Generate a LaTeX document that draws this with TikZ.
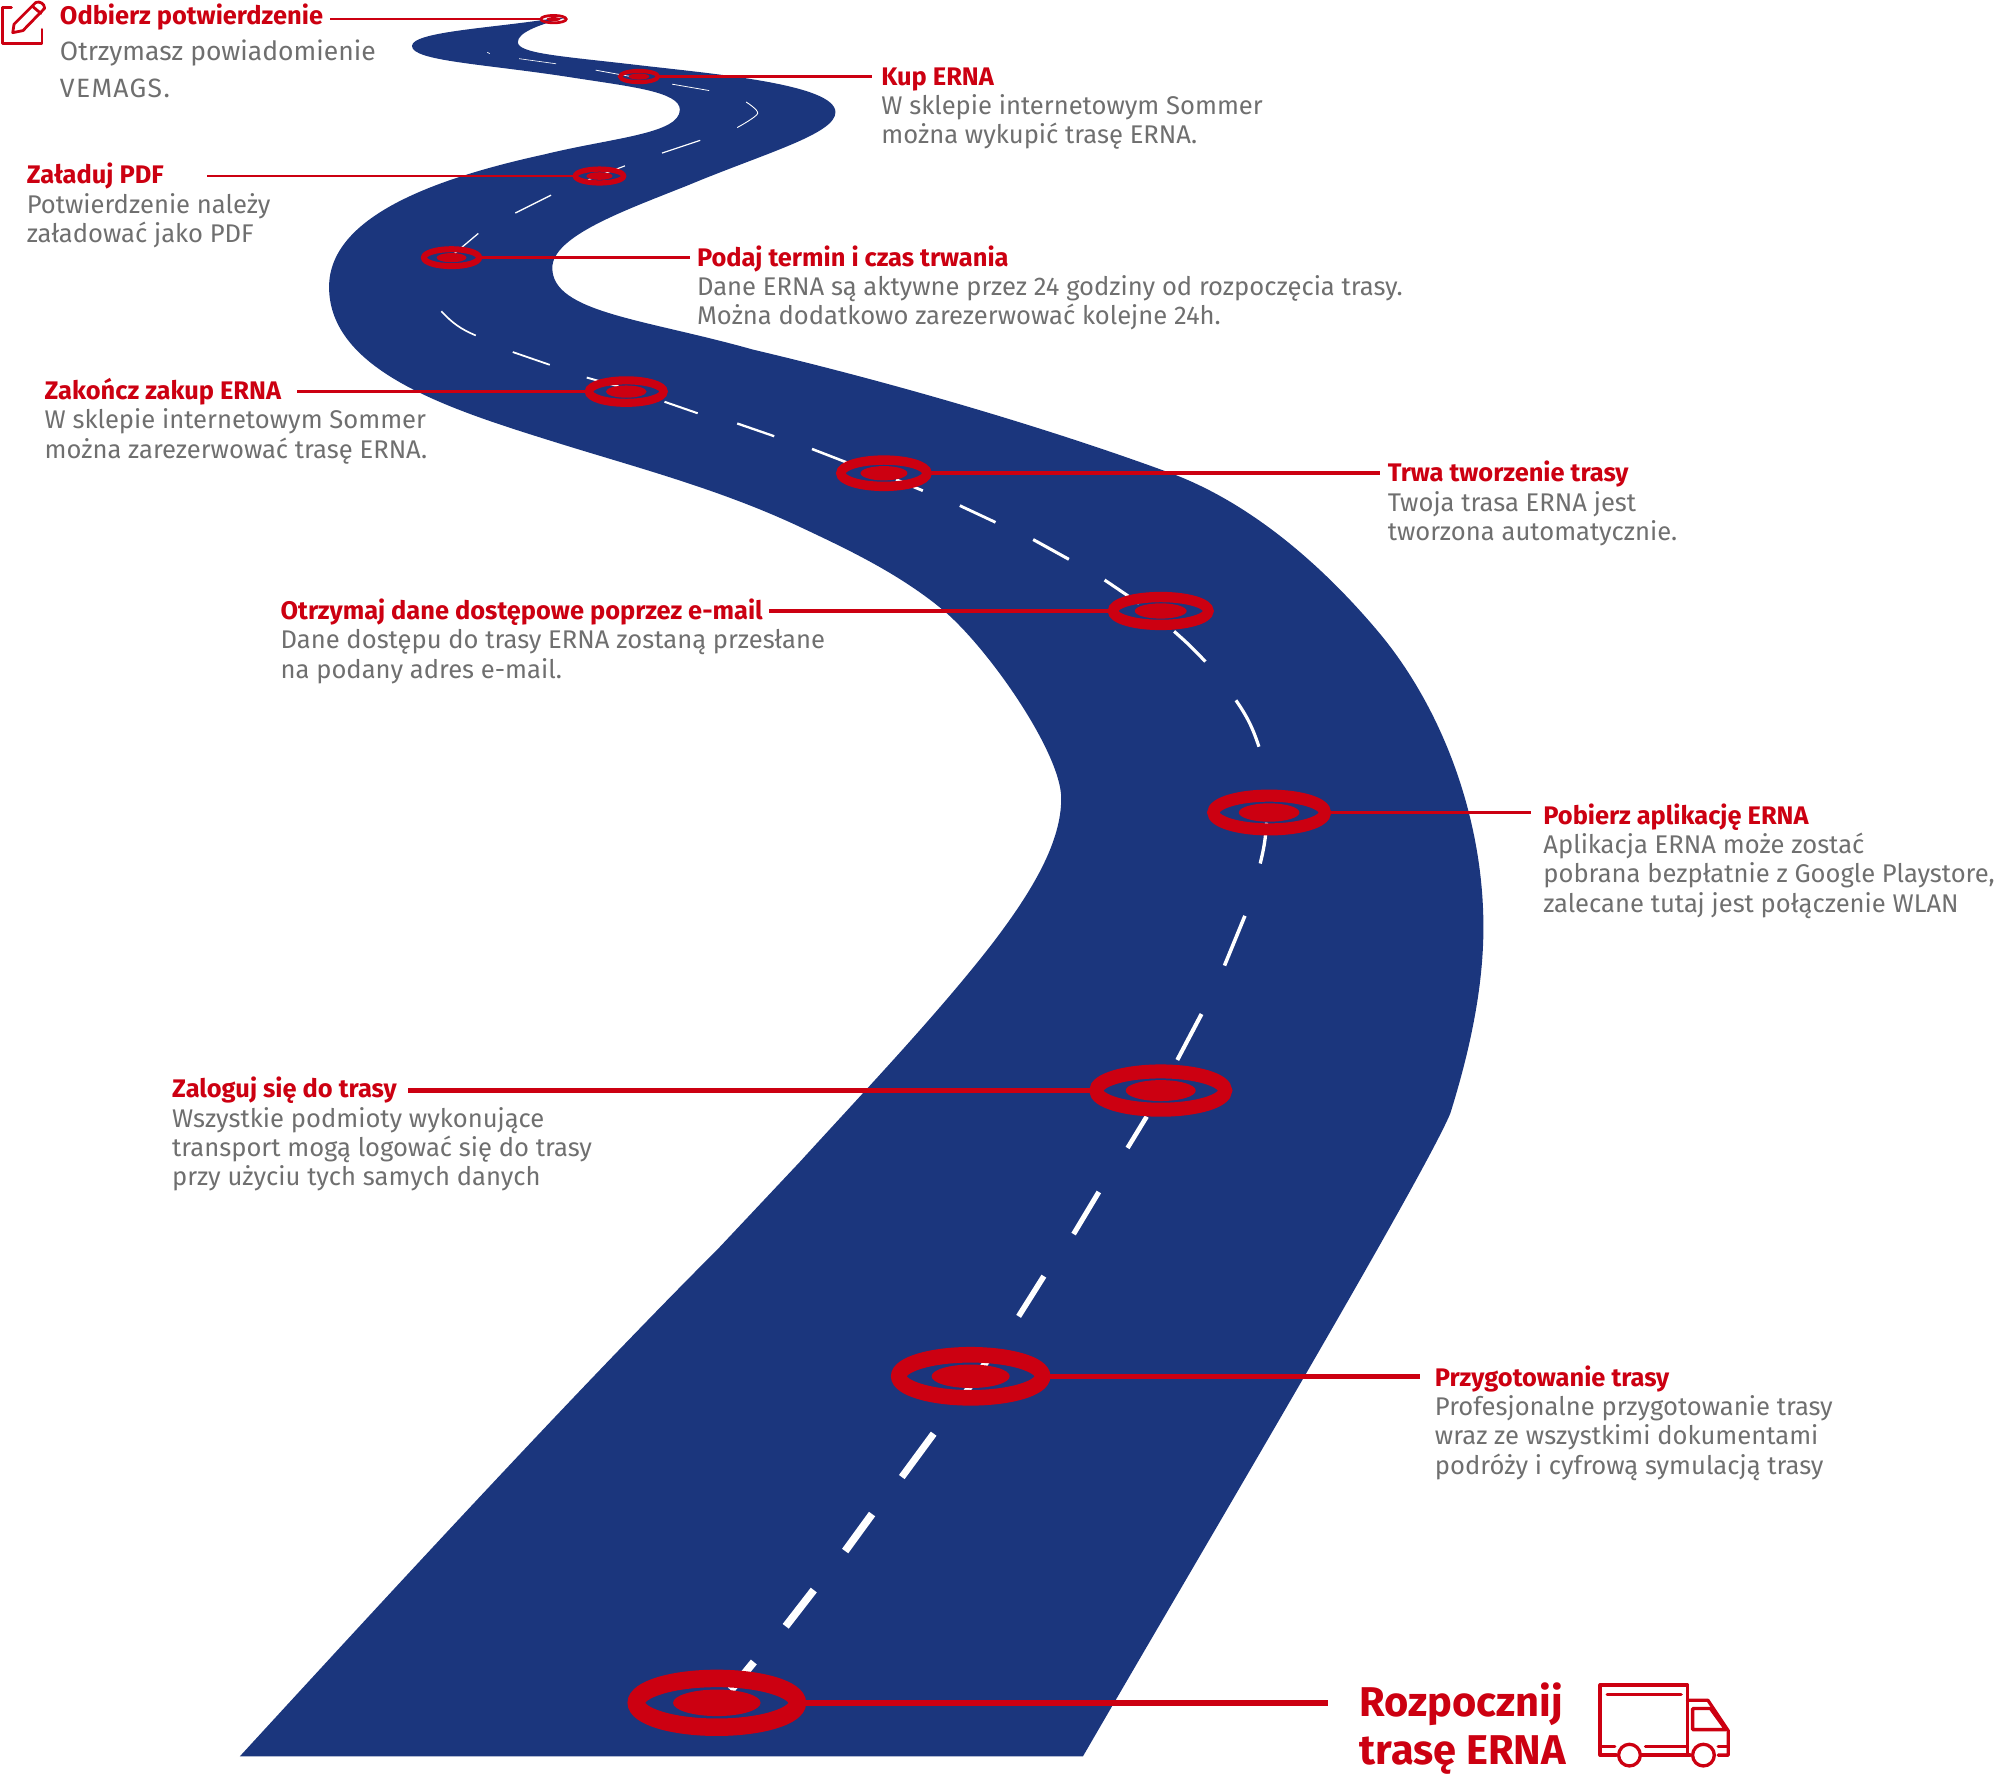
\documentclass[tikz,border=0pt]{standalone}
\usepackage{fontspec}
\setmainfont{Fira Sans}
\usetikzlibrary{shapes.geometric}
\definecolor{roadblue}{HTML}{1B367D}
\definecolor{mkred}{HTML}{CC0011}
\definecolor{txtgray}{HTML}{6F6F6F}
\newcommand{\ringat}[6]{% name,x,y,w,h,dotname
  \pgfmathsetmacro{\st}{0.098*#4}
  \pgfmathsetmacro{\pw}{#4-\st}
  \pgfmathsetmacro{\ph}{#5-\st}
  \pgfmathsetmacro{\dw}{0.49*#4}
  \pgfmathsetmacro{\dh}{0.40*#5}
  \node[ellipse,draw=mkred,line width=\st*0.6378pt,minimum width=\pw*0.6378pt,minimum height=\ph*0.6378pt,inner sep=0pt,outer sep=0pt] (#1) at (#2,#3) {};
  \node[ellipse,fill=mkred,minimum width=\dw*0.6378pt,minimum height=\dh*0.6378pt,inner sep=0pt,outer sep=0pt] (#6) at (#2,#3) {};
}
\tikzset{
  lbl/.style={anchor=north west,align=left,inner sep=0pt,outer sep=0pt,text=txtgray,font=\fontsize{12.8}{14.67}\selectfont},
  conn/.style={draw=mkred},
  dash1/.style={draw=white,line cap=butt},
  icon/.style={draw=mkred,line width=1.65pt,line cap=round,line join=round},
  pen/.style={draw=mkred,line width=1.4pt,line cap=round,line join=round},
}
\newcommand{\hd}[1]{\textcolor{mkred}{\fontsize{12.72}{14.67}\bfseries\selectfont #1}}
\begin{document}
\begin{tikzpicture}[x=0.6378pt,y=-0.6378pt]
\useasboundingbox (0,0) rectangle (1568,1391);
% road
\fill[roadblue] (443,14) .. controls (420,20) and (406,26) .. (406,33)
 .. controls (406,42) and (440,44) .. (500,51)
 .. controls (560,58) and (655,66) .. (655,88)
 .. controls (655,105) and (600,120) .. (540,145)
 .. controls (490,165) and (433,185) .. (433,210)
 .. controls (433,245) and (505,250) .. (590,274)
 .. controls (700,300) and (820,335) .. (918,371)
 .. controls (985,396) and (1042,449) .. (1082,497)
 .. controls (1130,555) and (1163,640) .. (1163,727)
 .. controls (1163,775) and (1152,825) .. (1137,873)
 .. controls (1115,925) and (940,1220) .. (849,1377)
 -- (188,1377)
 .. controls (300,1255) and (450,1092) .. (563,979)
 -- (627,911)
 .. controls (680,853) and (735,795) .. (777,741)
 .. controls (810,698) and (832,660) .. (832,626)
 .. controls (832,590) and (774,507) .. (739,478)
 .. controls (704,449) and (662,429.5) .. (627,413)
 .. controls (562,382.5) and (495,365.5) .. (430,345)
 .. controls (350,320) and (258,290) .. (258,225)
 .. controls (258,170) and (340,140) .. (427,121)
 .. controls (480,108) and (533,105) .. (533,86)
 .. controls (533,72) and (495,68) .. (450,61)
 .. controls (380,50) and (323,48) .. (323,36)
 .. controls (323,25) and (385,22) .. (430,15) -- cycle;
% centre dashes
\foreach \xa/\ya/\xb/\yb/\w in {573/1325/591/1303/6,616/1275/638/1246.6/6,662.6/1216/683.7/1187/6,707/1158/732/1124/5.5,755/1095/775/1065/5,798.6/1032/818.4/1000.5/4.4,841.7/967.5/861.5/934.5/4,884/900/899/875.4/3.6,923/831/942/795/3.2,960/757/976/718/2.8,636.6/352/665/363/2,578/332/607/342/1.8,521/315/547/324/1.6,460/296/485/303/1.5,402/276/431/286/1.4,810/423/838/438.5/2.4,752.5/396.4/780.5/409.5/2.2,702.5/376/723.5/384.7/2.2,866/454.7/893/473/2.4,527/66/556/71/.6,467/55/500/61/.6,407/46/436/50/.5,382/41/384/42/.5,519/120/549/110/.9,461/141/490/130/.9,404/167/432/153/1,356/199/375/183/1}
  {\draw[dash1,line width=\w*0.6378pt] (\xa,\ya) -- (\xb,\yb);}
\draw[dash1,line width=2.6*0.6378pt] (988,677) to[bend right=5] (993,645);
\draw[dash1,line width=2.5*0.6378pt] (987,585.4) to[bend right=8] (969,549);
\draw[dash1,line width=2.5*0.6378pt] (945,518.7) to[bend right=3] (920.5,495);
\draw[dash1,line width=1.3*0.6378pt] (346,244) to[bend right=12] (373,263);
\draw[dash1,line width=.7*0.6378pt] plot[smooth] coordinates {(578,100)(594,89)(585,80)};
% rings
\ringat{r1}{562}{1335}{140}{52}{d1}
\ringat{r2}{761}{1079}{125}{46}{d2}
\ringat{r3}{910}{855}{112}{41}{d3}
\ringat{r4}{995}{637}{97}{36}{d4}
\ringat{r5}{910}{479}{83}{30}{d5}
\ringat{r6}{693}{371}{75}{28}{d6}
\ringat{r7}{491}{307}{65}{24}{d7}
\ringat{r8}{354}{202}{48}{18}{d8}
\ringat{r9}{470}{138}{42}{15}{d9}
\ringat{r10}{501}{60}{33}{12}{d10}
\ringat{r11}{434}{15}{22}{8}{d11}
% free ends
\coordinate (c1) at (1041,1335);
\coordinate (c2) at (1113,1079);
\coordinate (c3) at (320,855);
\coordinate (c4) at (1200,637);
\coordinate (c5) at (603,479);
\coordinate (c6) at (1082,371);
\coordinate (c7) at (233,307);
\coordinate (c8) at (541,202);
\coordinate (c9) at (162,138);
\coordinate (c10) at (684,60);
\coordinate (c11) at (259,15);
\draw[conn,line width=3pt] (r1.east) -- (c1);
\draw[conn,line width=2.3pt] (r2.east) -- (c2);
\draw[conn,line width=2.5pt] (r3.west) -- (c3);
\draw[conn,line width=1.9pt] (r4.east) -- (c4);
\draw[conn,line width=2.3pt] (r5.west) -- (c5);
\draw[conn,line width=1.9pt] (r6.east) -- (c6);
\draw[conn,line width=1.6pt] (r7.west) -- (c7);
\draw[conn,line width=1.3pt] (r8.east) -- (c8);
\draw[conn,line width=1.3pt] (r9.west) -- (c9);
\draw[conn,line width=1.3pt] (r10.east) -- (c10);
\draw[conn,line width=1.3pt] (r11.west) -- (c11);
% labels
\node[lbl] (t11) at (47,3) {\hd{Odbierz potwierdzenie}\\[3.6pt]{\fontsize{13.25}{14.67}\selectfont Otrzymasz powiadomienie}\\[3.6pt]{\fontsize{13.25}{14.67}\selectfont\addfontfeature{LetterSpace=5} VEMAGS.}};
\node[lbl] (t10) at (691,53) {\hd{Kup ERNA}\\W sklepie internetowym Sommer\\można wykupić trasę ERNA.};
\node[lbl] (t9) at (21,128) {\hd{Załaduj PDF}\\Potwierdzenie należy\\załadować jako PDF};
\node[lbl] (t8) at (546.5,192.5) {\hd{Podaj termin i czas trwania}\\Dane ERNA są aktywne przez 24 godziny od rozpoczęcia trasy.\\Można dodatkowo zarezerwować kolejne 24h.};
\node[lbl] (t7) at (35,296.5) {\hd{Zakończ zakup ERNA}\\W sklepie internetowym Sommer\\można zarezerwować trasę ERNA.};
\node[lbl] (t6) at (1088,361.5) {\hd{Trwa tworzenie trasy}\\Twoja trasa ERNA jest\\tworzona automatycznie.};
\node[lbl] (t5) at (220,469.5) {\hd{Otrzymaj dane dostępowe poprzez e-mail}\\Dane dostępu do trasy ERNA zostaną przesłane\\na podany adres e-mail.};
\node[lbl] (t4) at (1210,630) {\hd{Pobierz aplikację ERNA}\\Aplikacja ERNA może zostać\\pobrana bezpłatnie z Google Playstore,\\zalecane tutaj jest połączenie WLAN};
\node[lbl] (t3) at (135,844.5) {\hd{Zaloguj się do trasy}\\Wszystkie podmioty wykonujące\\transport mogą logować się do trasy\\przy użyciu tych samych danych};
\node[lbl] (t2) at (1125,1070.5) {\hd{Przygotowanie trasy}\\Profesjonalne przygotowanie trasy\\wraz ze wszystkimi dokumentami\\podróży i cyfrową symulacją trasy};
\node[anchor=north west,align=left,inner sep=0pt,outer sep=0pt,text=mkred,font=\fontsize{20.8}{24.1}\bfseries\selectfont] (t1) at (1066,1319) {Rozpocznij\\trasę ERNA};
% truck icon
\draw[icon] (1323,1376) -- (1323,1321) -- (1254.5,1321) -- (1254.5,1376) -- (1267,1376);
\draw[icon] (1260,1328.5) -- (1318,1328.5);
\draw[icon] (1287,1376) -- (1325,1376);
\draw[icon] (1254.5,1369.5) -- (1266,1369.5) (1290,1369.5) -- (1323,1369.5) (1347,1369.5) -- (1355,1369.5);
\draw[icon] (1323,1333) -- (1339,1333) -- (1355,1357) -- (1355,1376) -- (1347,1376);
\draw[icon] (1327,1339.5) -- (1341,1339.5) -- (1353,1356) -- (1327,1356) -- cycle;
\draw[icon] (1277.5,1376) circle[radius=8.5*0.6378pt];
\draw[icon] (1335.5,1376) circle[radius=8.5*0.6378pt];
% pencil icon
\draw[pen] (9,6) -- (2,6) -- (2,34) -- (33,34) -- (33,23);
\draw[pen] (10,25.6) -- (11,19) -- (28,2) .. controls (31,0.5) and (35,3) .. (35,6.5) -- (18,24) -- cycle;
\draw[pen] (25.5,5) -- (32,10.5);
\end{tikzpicture}
\end{document}
